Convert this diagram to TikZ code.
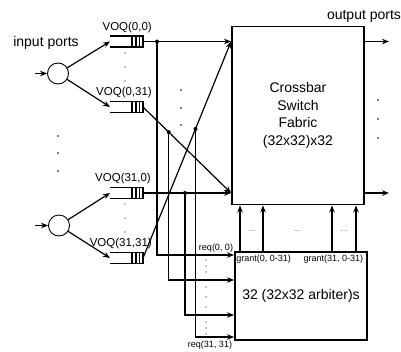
\documentclass[tikz,border=0pt]{standalone}
\usepackage{fontspec}
\setmainfont{Liberation Sans}
\usetikzlibrary{arrows.meta,positioning,calc}

% queue body: open on the left, three cells on the right
\newcommand{\voqbody}[1]{%
  \draw[qline] (#1.north west) -- (#1.north east) -- (#1.south east) -- (#1.south west);
  \foreach \d in {3.5,7,11} \draw[qline] ([xshift=-\d pt]#1.north east) -- ([xshift=-\d pt]#1.south east);
}

\begin{document}
\begin{tikzpicture}[x=1pt, y=-1pt, >={Stealth[length=7pt,width=5.5pt]},
  wire/.style={line width=1.2pt},
  qline/.style={line width=1.3pt},
  port/.style={draw, circle, minimum size=21pt, inner sep=0pt, line width=0.9pt},
  voq/.style={minimum width=33pt, minimum height=11pt, inner sep=0pt, outer sep=0pt},
  box/.style={draw, line width=1.9pt, align=center, inner sep=0pt},
  lab/.style={font=\fontsize{11.5}{12}\selectfont, inner sep=1pt},
  plab/.style={font=\fontsize{14}{15}\selectfont, inner sep=0pt},
  bigtxt/.style={font=\fontsize{14}{17.5}\selectfont},
  sml/.style={font=\fontsize{9}{10}\selectfont, inner sep=0.5pt},
  jdot/.style={circle, fill, inner sep=0pt, minimum size=4pt}]
\useasboundingbox (0,0) rectangle (401,351);

% input ports
\node[port] (in0) at (58,73.5) {};
\node[port] (in31) at (59,225.5) {};
\coordinate (src0) at (35,73.5);
\coordinate (src31) at (35,225.5);
\draw[wire,->] (src0) -- (in0);
\draw[wire,->] (src31) -- (in31);
\node[plab] (inlab) at (46,43) {input ports};

% virtual output queues
\node[voq] (q00) at (126.5,41.5) {};
\node[voq] (q031) at (126.5,107) {};
\node[voq] (q310) at (126.5,193) {};
\node[voq] (q3131) at (126.5,258) {};
\voqbody{q00}
\voqbody{q031}
\voqbody{q310}
\voqbody{q3131}
\node[lab, anchor=south east] (l00) at ([shift={(10pt,2pt)}]q00.north east) {VOQ(0,0)};
\node[lab, anchor=south east] (l031) at ([shift={(10pt,2pt)}]q031.north east) {VOQ(0,31)};
\node[lab, anchor=south east] (l310) at ([shift={(9pt,2pt)}]q310.north east) {VOQ(31,0)};
\node[lab, anchor=south east] (l3131) at ([shift={(10pt,2pt)}]q3131.north east) {VOQ(31,31)};
\draw[wire,->] (in0) -- (q00.west);
\draw[wire,->] (in0) -- (q031.west);
\draw[wire,->] (in31) -- (q310.west);
\draw[wire,->] (in31) -- (q3131.west);

% crossbar and arbiters
\node[box, minimum width=132pt, minimum height=178pt, bigtxt] (xbar) at (298,115.5) {Crossbar\\Switch\\Fabric\\(32x32)x32};
\node[box, minimum width=132pt, minimum height=88pt, bigtxt] (arb) at (301,296) {32 (32x32 arbiter)s};
\coordinate (xin0) at (xbar.west |- q00.east);
\coordinate (xin1) at (xbar.west |- q310.east);
\draw[wire,->] (q00.east) -- (xin0);
\draw[wire,->] (q310.east) -- (xin1);
\draw[wire,->] (q031.east) -- (xin1);
\draw[wire,->] (q3131.east) -- (xin0);

% requests
\coordinate (j00) at (q00.east -| 157,0);
\coordinate (j031) at ($(q031.east)!0.292!(xin1)$);
\coordinate (j310) at (q310.east -| 185,0);
\coordinate (j3131) at ($(q3131.east)!0.596!(xin0)$);
\coordinate (r00) at (arb.west |- 0,255);
\coordinate (r031) at (arb.west |- 0,280);
\coordinate (r310) at (arb.west |- 0,315);
\coordinate (r3131) at (arb.west |- 0,337);
\draw[wire,->] (j00) |- (r00);
\draw[wire,->] (j031) |- (r031);
\draw[wire,->] (j310) |- (r310);
\draw[wire,->] (j3131) |- (r3131);
\node[jdot] (d00) at (j00) {};
\node[jdot] (d031) at (j031) {};
\node[jdot] (d310) at (j310) {};
\node[jdot] (d3131) at (j3131) {};
\node[sml] (rl00) at (216,248) {req(0, 0)};
\node[sml] (rl3131) at (210,345) {req(31, 31)};

% grants
\foreach \gx in {240,263,332,356}
  \draw[wire,->] (arb.north -| \gx,0) -- (xbar.south -| \gx,0);
\node[sml, text=black!45] (g1) at (251.5,231) {...};
\node[sml, text=black!45] (g2) at (297.5,231) {...};
\node[sml, text=black!45] (g3) at (344,231) {...};
\node[sml, anchor=north west] (gl0) at ([shift={(1.5pt,-3pt)}]arb.north west) {grant(0, 0-31)};
\node[sml, anchor=north east] (gl31) at ([shift={(-4pt,-3pt)}]arb.north east) {grant(31, 0-31)};

% output ports
\coordinate (o0) at (xin0 -| 389,0);
\coordinate (o31) at (xin1 -| 389,0);
\draw[wire,->] (xbar.east |- xin0) -- (o0);
\draw[wire,->] (xbar.east |- xin1) -- (o31);
\node[plab] (outlab) at (364,16) {output ports};

% ellipsis dots
\foreach \y in {53,67,81,204,218,232} \fill (125,\y) circle (0.7);
\foreach \y in {136,153,171} \fill (58,\y) circle (0.8);
\foreach \y in {90,108,125} \fill (181,\y) circle (0.8);
\foreach \y in {100,119,138} \fill (378,\y) circle (0.8);
\foreach \y in {260,266,272,287,297,307,322,328,334} \fill (206,\y) circle (0.6);
\end{tikzpicture}
\end{document}
